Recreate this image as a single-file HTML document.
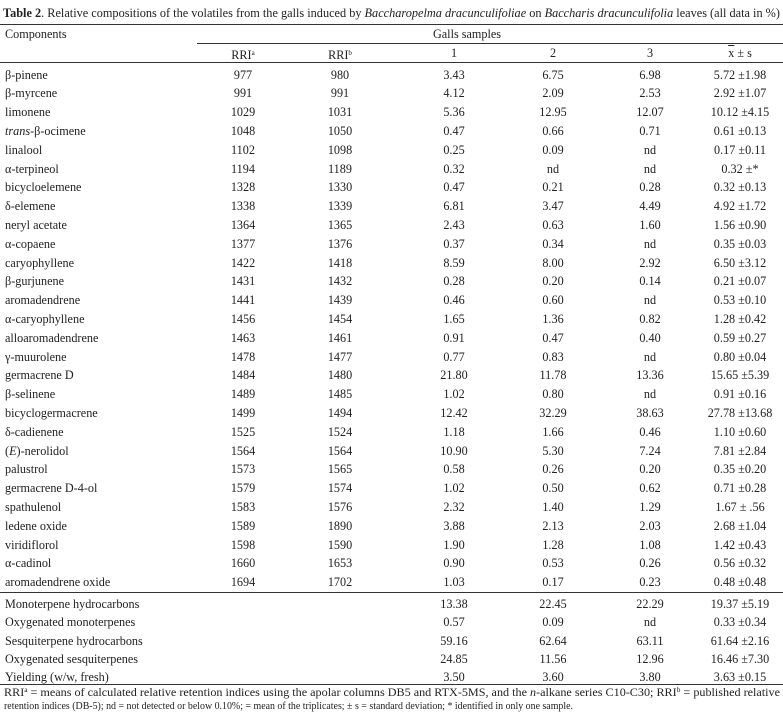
<!DOCTYPE html>
<html><head><meta charset="utf-8"><style>
body{margin:0;width:783px;height:724px;background:#fff;position:relative;overflow:hidden;font-family:"Liberation Serif",serif;color:#222;font-size:12.2px}
.r{position:absolute;left:0;width:783px;height:18px;line-height:18px}
.r div{position:absolute;top:0;width:120px;text-align:center;white-space:nowrap}
.r .n{left:5px;text-align:left;width:300px}
.a{left:183px}.b{left:280px}.c1{left:394px}.c2{left:493px}.c3{left:590px}.c4{left:680px}
.ln{position:absolute;height:1px;background:#333}
sup{font-size:7px;vertical-align:4px}
svg{position:absolute;left:0;top:0}
</style></head><body>
<svg width="783" height="724" font-family="Liberation Serif, serif" fill="#222">
<text x="3" y="17" font-size="12.2" textLength="777" lengthAdjust="spacingAndGlyphs"><tspan font-weight="bold">Table 2</tspan>. Relative compositions of the volatiles from the galls induced by <tspan font-style="italic">Baccharopelma dracunculifoliae</tspan> on <tspan font-style="italic">Baccharis dracunculifolia</tspan> leaves (all data in %)</text>
<text x="4" y="696" font-size="11.5" textLength="776" lengthAdjust="spacingAndGlyphs">RRI<tspan font-size="7" dy="-4">a</tspan><tspan dy="4"> = means of calculated relative retention indices using the apolar columns DB5 and RTX-5MS, and the </tspan><tspan font-style="italic">n</tspan>-alkane series C10-C30; RRI<tspan font-size="7" dy="-4">b</tspan><tspan dy="4"> = published relative</tspan></text>
<text x="4" y="709" font-size="11" textLength="569" lengthAdjust="spacingAndGlyphs">retention indices (DB-5); nd = not detected or below 0.10%;  = mean of the triplicates; ± s = standard deviation; * identified in only one sample.</text>
</svg>
<div class="ln" style="left:0;width:783px;top:24px"></div>
<div class="ln" style="left:197px;width:586px;top:43px"></div>
<div class="ln" style="left:0;width:783px;top:62px"></div>
<div class="ln" style="left:0;width:783px;top:592px"></div>
<div class="ln" style="left:0;width:783px;top:684px"></div>
<div class="r" style="top:25px"><div class="n">Components</div><div style="left:407px">Galls samples</div></div>
<div class="r" style="top:44px"><div class="a">RRI<sup>a</sup></div><div class="b">RRI<sup>b</sup></div><div class="c1">1</div><div class="c2">2</div><div class="c3">3</div><div class="c4"><span style="text-decoration:overline">x</span> ± s</div></div>
<div class="r" style="top:65.5px"><div class="n">β-pinene</div><div class="a">977</div><div class="b">980</div><div class="c1">3.43</div><div class="c2">6.75</div><div class="c3">6.98</div><div class="c4">5.72 ±1.98</div></div>
<div class="r" style="top:84.3px"><div class="n">β-myrcene</div><div class="a">991</div><div class="b">991</div><div class="c1">4.12</div><div class="c2">2.09</div><div class="c3">2.53</div><div class="c4">2.92 ±1.07</div></div>
<div class="r" style="top:103.1px"><div class="n">limonene</div><div class="a">1029</div><div class="b">1031</div><div class="c1">5.36</div><div class="c2">12.95</div><div class="c3">12.07</div><div class="c4">10.12 ±4.15</div></div>
<div class="r" style="top:121.9px"><div class="n"><i>trans</i>-β-ocimene</div><div class="a">1048</div><div class="b">1050</div><div class="c1">0.47</div><div class="c2">0.66</div><div class="c3">0.71</div><div class="c4">0.61 ±0.13</div></div>
<div class="r" style="top:140.7px"><div class="n">linalool</div><div class="a">1102</div><div class="b">1098</div><div class="c1">0.25</div><div class="c2">0.09</div><div class="c3">nd</div><div class="c4">0.17 ±0.11</div></div>
<div class="r" style="top:159.5px"><div class="n">α-terpineol</div><div class="a">1194</div><div class="b">1189</div><div class="c1">0.32</div><div class="c2">nd</div><div class="c3">nd</div><div class="c4">0.32 ±*</div></div>
<div class="r" style="top:178.3px"><div class="n">bicycloelemene</div><div class="a">1328</div><div class="b">1330</div><div class="c1">0.47</div><div class="c2">0.21</div><div class="c3">0.28</div><div class="c4">0.32 ±0.13</div></div>
<div class="r" style="top:197.1px"><div class="n">δ-elemene</div><div class="a">1338</div><div class="b">1339</div><div class="c1">6.81</div><div class="c2">3.47</div><div class="c3">4.49</div><div class="c4">4.92 ±1.72</div></div>
<div class="r" style="top:215.9px"><div class="n">neryl acetate</div><div class="a">1364</div><div class="b">1365</div><div class="c1">2.43</div><div class="c2">0.63</div><div class="c3">1.60</div><div class="c4">1.56 ±0.90</div></div>
<div class="r" style="top:234.7px"><div class="n">α-copaene</div><div class="a">1377</div><div class="b">1376</div><div class="c1">0.37</div><div class="c2">0.34</div><div class="c3">nd</div><div class="c4">0.35 ±0.03</div></div>
<div class="r" style="top:253.5px"><div class="n">caryophyllene</div><div class="a">1422</div><div class="b">1418</div><div class="c1">8.59</div><div class="c2">8.00</div><div class="c3">2.92</div><div class="c4">6.50 ±3.12</div></div>
<div class="r" style="top:272.3px"><div class="n">β-gurjunene</div><div class="a">1431</div><div class="b">1432</div><div class="c1">0.28</div><div class="c2">0.20</div><div class="c3">0.14</div><div class="c4">0.21 ±0.07</div></div>
<div class="r" style="top:291.1px"><div class="n">aromadendrene</div><div class="a">1441</div><div class="b">1439</div><div class="c1">0.46</div><div class="c2">0.60</div><div class="c3">nd</div><div class="c4">0.53 ±0.10</div></div>
<div class="r" style="top:309.9px"><div class="n">α-caryophyllene</div><div class="a">1456</div><div class="b">1454</div><div class="c1">1.65</div><div class="c2">1.36</div><div class="c3">0.82</div><div class="c4">1.28 ±0.42</div></div>
<div class="r" style="top:328.7px"><div class="n">alloaromadendrene</div><div class="a">1463</div><div class="b">1461</div><div class="c1">0.91</div><div class="c2">0.47</div><div class="c3">0.40</div><div class="c4">0.59 ±0.27</div></div>
<div class="r" style="top:347.5px"><div class="n">γ-muurolene</div><div class="a">1478</div><div class="b">1477</div><div class="c1">0.77</div><div class="c2">0.83</div><div class="c3">nd</div><div class="c4">0.80 ±0.04</div></div>
<div class="r" style="top:366.3px"><div class="n">germacrene D</div><div class="a">1484</div><div class="b">1480</div><div class="c1">21.80</div><div class="c2">11.78</div><div class="c3">13.36</div><div class="c4">15.65 ±5.39</div></div>
<div class="r" style="top:385.1px"><div class="n">β-selinene</div><div class="a">1489</div><div class="b">1485</div><div class="c1">1.02</div><div class="c2">0.80</div><div class="c3">nd</div><div class="c4">0.91 ±0.16</div></div>
<div class="r" style="top:403.9px"><div class="n">bicyclogermacrene</div><div class="a">1499</div><div class="b">1494</div><div class="c1">12.42</div><div class="c2">32.29</div><div class="c3">38.63</div><div class="c4">27.78 ±13.68</div></div>
<div class="r" style="top:422.7px"><div class="n">δ-cadienene</div><div class="a">1525</div><div class="b">1524</div><div class="c1">1.18</div><div class="c2">1.66</div><div class="c3">0.46</div><div class="c4">1.10 ±0.60</div></div>
<div class="r" style="top:441.5px"><div class="n">(<i>E</i>)-nerolidol</div><div class="a">1564</div><div class="b">1564</div><div class="c1">10.90</div><div class="c2">5.30</div><div class="c3">7.24</div><div class="c4">7.81 ±2.84</div></div>
<div class="r" style="top:460.3px"><div class="n">palustrol</div><div class="a">1573</div><div class="b">1565</div><div class="c1">0.58</div><div class="c2">0.26</div><div class="c3">0.20</div><div class="c4">0.35 ±0.20</div></div>
<div class="r" style="top:479.1px"><div class="n">germacrene D-4-ol</div><div class="a">1579</div><div class="b">1574</div><div class="c1">1.02</div><div class="c2">0.50</div><div class="c3">0.62</div><div class="c4">0.71 ±0.28</div></div>
<div class="r" style="top:497.9px"><div class="n">spathulenol</div><div class="a">1583</div><div class="b">1576</div><div class="c1">2.32</div><div class="c2">1.40</div><div class="c3">1.29</div><div class="c4">1.67 ± .56</div></div>
<div class="r" style="top:516.7px"><div class="n">ledene oxide</div><div class="a">1589</div><div class="b">1890</div><div class="c1">3.88</div><div class="c2">2.13</div><div class="c3">2.03</div><div class="c4">2.68 ±1.04</div></div>
<div class="r" style="top:535.5px"><div class="n">viridiflorol</div><div class="a">1598</div><div class="b">1590</div><div class="c1">1.90</div><div class="c2">1.28</div><div class="c3">1.08</div><div class="c4">1.42 ±0.43</div></div>
<div class="r" style="top:554.3px"><div class="n">α-cadinol</div><div class="a">1660</div><div class="b">1653</div><div class="c1">0.90</div><div class="c2">0.53</div><div class="c3">0.26</div><div class="c4">0.56 ±0.32</div></div>
<div class="r" style="top:573.1px"><div class="n">aromadendrene oxide</div><div class="a">1694</div><div class="b">1702</div><div class="c1">1.03</div><div class="c2">0.17</div><div class="c3">0.23</div><div class="c4">0.48 ±0.48</div></div>
<div class="r" style="top:594.5px"><div class="n">Monoterpene hydrocarbons</div><div class="c1">13.38</div><div class="c2">22.45</div><div class="c3">22.29</div><div class="c4">19.37 ±5.19</div></div>
<div class="r" style="top:613px"><div class="n">Oxygenated monoterpenes</div><div class="c1">0.57</div><div class="c2">0.09</div><div class="c3">nd</div><div class="c4">0.33 ±0.34</div></div>
<div class="r" style="top:631.5px"><div class="n">Sesquiterpene hydrocarbons</div><div class="c1">59.16</div><div class="c2">62.64</div><div class="c3">63.11</div><div class="c4">61.64 ±2.16</div></div>
<div class="r" style="top:650px"><div class="n">Oxygenated sesquiterpenes</div><div class="c1">24.85</div><div class="c2">11.56</div><div class="c3">12.96</div><div class="c4">16.46 ±7.30</div></div>
<div class="r" style="top:668px"><div class="n">Yielding (w/w, fresh)</div><div class="c1">3.50</div><div class="c2">3.60</div><div class="c3">3.80</div><div class="c4">3.63 ±0.15</div></div>
</body></html>
